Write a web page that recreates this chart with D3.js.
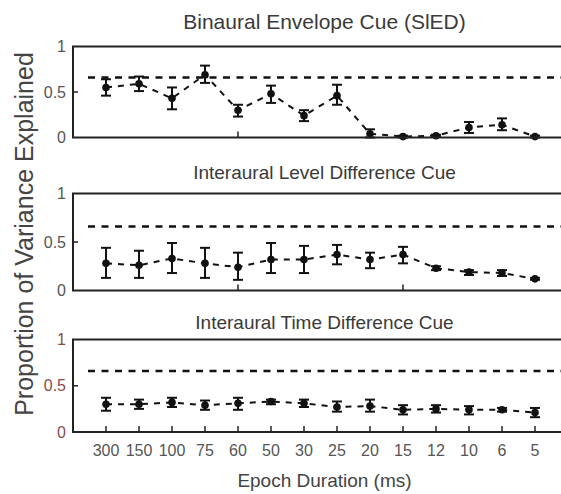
<!DOCTYPE html>
<html>
<head>
<meta charset="utf-8">
<script src="https://cdn.jsdelivr.net/npm/d3@7"></script>
<style>
body { margin: 0; background: #fff; }
text { font-family: "Liberation Sans", Arial, sans-serif; }
</style>
</head>
<body>
<svg id="chart" width="561" height="494"></svg>
<script>
// epoch durations (ms), one per x position
var durations = ['300', '150', '100', '75', '60', '50', '30', '25', '20', '15', '12', '10', '6', '5']
var yTicks = [0, 0.5, 1]
var chance = 0.66

var titles = ['Binaural Envelope Cue (SlED)', 'Interaural Level Difference Cue', 'Interaural Time Difference Cue']

// SIED
var sledMean = [0.55, 0.59, 0.43, 0.69, 0.30, 0.48, 0.24, 0.46, 0.04, 0.01, 0.02, 0.11, 0.14, 0.01]
var sledLow  = [0.46, 0.51, 0.31, 0.60, 0.23, 0.38, 0.18, 0.36, 0.00, 0.00, 0.01, 0.05, 0.08, 0.00]
var sledHigh = [0.64, 0.67, 0.55, 0.79, 0.36, 0.57, 0.30, 0.58, 0.09, 0.02, 0.03, 0.17, 0.21, 0.02]

// ILD
var ildMean = [0.28, 0.26, 0.33, 0.28, 0.24, 0.32, 0.32, 0.37, 0.32, 0.37, 0.23, 0.19, 0.18, 0.12]
var ildLow  = [0.13, 0.13, 0.18, 0.13, 0.11, 0.18, 0.18, 0.27, 0.23, 0.28, 0.21, 0.16, 0.15, 0.11]
var ildHigh = [0.44, 0.41, 0.49, 0.44, 0.39, 0.49, 0.46, 0.47, 0.39, 0.45, 0.25, 0.21, 0.21, 0.13]

// ITD
var itdMean = [0.30, 0.30, 0.32, 0.29, 0.31, 0.33, 0.31, 0.27, 0.28, 0.24, 0.25, 0.24, 0.24, 0.21]
var itdLow  = [0.23, 0.25, 0.27, 0.24, 0.24, 0.30, 0.27, 0.22, 0.22, 0.19, 0.21, 0.19, 0.22, 0.16]
var itdHigh = [0.37, 0.35, 0.37, 0.34, 0.37, 0.35, 0.35, 0.33, 0.35, 0.29, 0.29, 0.28, 0.26, 0.26]

// stray bottom ticks that show in the two upper panels
var panelTicks = [[4], [4, 9], d3.range(durations.length)]

var series = [
	{mean: sledMean, low: sledLow, high: sledHigh},
	{mean: ildMean, low: ildLow, high: ildHigh},
	{mean: itdMean, low: itdLow, high: itdHigh}
]

var layout = [
	{top: 46.5, bottom: 137.5, titleY: 29, titleSize: 21, labelColor: '#555'},
	{top: 193.5, bottom: 290.5, titleY: 179, titleSize: 19, labelColor: '#555'},
	{top: 339.5, bottom: 432, titleY: 329, titleSize: 19, labelColor: '#8a4a4a'}
]

var svg = d3.select('#chart')

var xscale = d3.scaleLinear().domain([-1, durations.length]).range([73, 568])
var midX = (xscale(-1) + xscale(durations.length)) / 2 + 4

for (var p = 0; p < series.length; p++)
{
	var lay = layout[p]
	var s = series[p]
	var yscale = d3.scaleLinear().domain([0, 1]).range([lay.bottom, lay.top])

	var g = svg.append('g')

	// title
	g.append('text')
		.attr('x', midX)
		.attr('y', lay.titleY)
		.attr('text-anchor', 'middle')
		.style('font-size', lay.titleSize + 'px')
		.style('fill', '#3a3a3a')
		.text(titles[p])

	// y axis labels
	var yAxis = g.append('g')
		.attr('transform', 'translate(' + xscale(-1) + ',0)')
		.call(d3.axisLeft(yscale).tickValues(yTicks).tickSize(0).tickPadding(7).tickFormat(d3.format('')))
	yAxis.select('.domain').remove()
	yAxis.selectAll('text')
		.style('font-size', '16px')
		.style('font-family', '"Liberation Sans", Arial, sans-serif')
		.style('fill', lay.labelColor)

	// inner tick at 0.5
	g.append('line')
		.attr('x1', xscale(-1)).attr('x2', xscale(-1) + 5)
		.attr('y1', yscale(0.5)).attr('y2', yscale(0.5))
		.attr('stroke', '#222').attr('stroke-width', 1.5)

	// bottom ticks pointing up
	g.selectAll('.xtick').data(panelTicks[p]).enter().append('line')
		.attr('class', 'xtick')
		.attr('x1', d => xscale(d)).attr('x2', d => xscale(d))
		.attr('y1', lay.bottom).attr('y2', lay.bottom - 6)
		.attr('stroke', '#222').attr('stroke-width', 1.5)

	// chance level
	g.append('line')
		.attr('x1', 88).attr('x2', 561)
		.attr('y1', yscale(chance)).attr('y2', yscale(chance))
		.attr('stroke', '#111').attr('stroke-width', 2.5)
		.attr('stroke-dasharray', '7,6.5')

	// connecting dashed line
	var line = d3.line().x((d, i) => xscale(i)).y(d => yscale(d))
	g.append('path')
		.attr('d', line(s.mean))
		.attr('fill', 'none')
		.attr('stroke', '#111').attr('stroke-width', 2)
		.attr('stroke-dasharray', '6,6')

	// error bars
	var bars = g.selectAll('.err').data(s.mean).enter().append('g').attr('class', 'err')
	bars.append('line')
		.attr('x1', (d, i) => xscale(i)).attr('x2', (d, i) => xscale(i))
		.attr('y1', (d, i) => yscale(s.low[i])).attr('y2', (d, i) => yscale(s.high[i]))
		.attr('stroke', '#111').attr('stroke-width', 2)
	bars.append('line')
		.attr('x1', (d, i) => xscale(i) - 5).attr('x2', (d, i) => xscale(i) + 5)
		.attr('y1', (d, i) => yscale(s.low[i])).attr('y2', (d, i) => yscale(s.low[i]))
		.attr('stroke', '#111').attr('stroke-width', 2)
	bars.append('line')
		.attr('x1', (d, i) => xscale(i) - 5).attr('x2', (d, i) => xscale(i) + 5)
		.attr('y1', (d, i) => yscale(s.high[i])).attr('y2', (d, i) => yscale(s.high[i]))
		.attr('stroke', '#111').attr('stroke-width', 2)
	bars.append('circle')
		.attr('cx', (d, i) => xscale(i))
		.attr('cy', d => yscale(d))
		.attr('r', 3.8)
		.attr('fill', '#111')

	// frame (right edge runs off the picture)
	g.append('rect')
		.attr('x', xscale(-1)).attr('y', lay.top)
		.attr('width', xscale(durations.length) - xscale(-1))
		.attr('height', lay.bottom - lay.top)
		.attr('fill', 'none')
		.attr('stroke', '#222').attr('stroke-width', 2)

	// x labels only under the last panel
	if (p == series.length - 1)
	{
		g.selectAll('.xlab').data(durations).enter().append('text')
			.attr('class', 'xlab')
			.attr('x', (d, i) => xscale(i))
			.attr('y', 456)
			.attr('text-anchor', 'middle')
			.style('font-size', '16px')
			.style('fill', '#555')
			.text(d => d)
	}
}

svg.append('text')
	.attr('x', midX)
	.attr('y', 487)
	.attr('text-anchor', 'middle')
	.style('font-size', '19px')
	.style('fill', '#444')
	.text('Epoch Duration (ms)')

svg.append('text')
	.attr('transform', 'translate(33,' + 234 + ')rotate(-90)')
	.attr('text-anchor', 'middle')
	.style('font-size', '25px')
	.style('fill', '#444')
	.text('Proportion of Variance Explained')
</script>
</body>
</html>
